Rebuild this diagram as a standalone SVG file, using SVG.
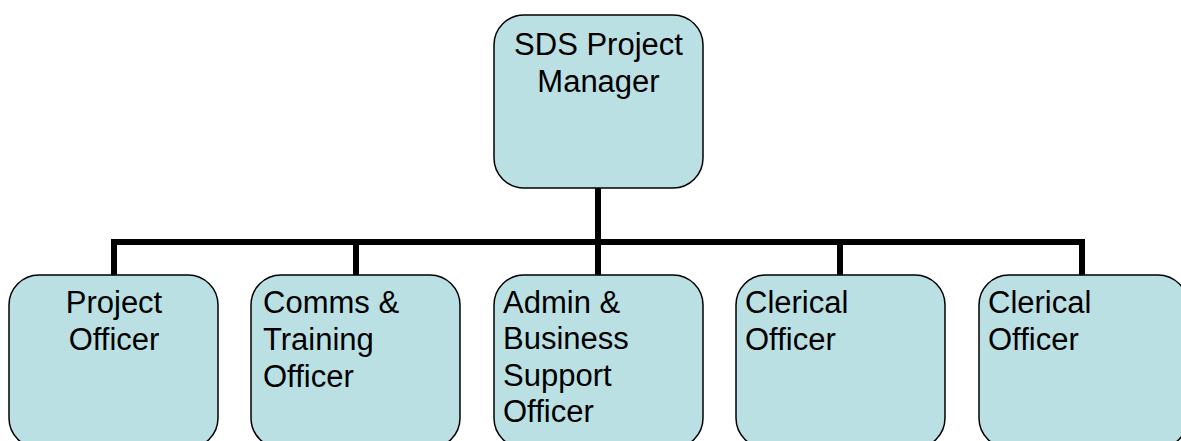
<svg xmlns="http://www.w3.org/2000/svg" width="1181" height="441" viewBox="0 0 1181 441">
<style>
.box{fill:#BBE0E3;stroke:#000;stroke-width:1.5}
.t{font-family:"Liberation Sans",Arial,sans-serif;font-size:31px;fill:#000}
.c{text-anchor:middle}
.conn{stroke:#000;stroke-width:6;fill:none}
</style>
<rect width="1181" height="441" fill="#fff"/>
<g id="connectors">
<path class="conn" d="M598 188V275M114 275V242H1082V275M356 242V275M840 242V275"/>
</g>
<g id="manager">
<rect class="box" x="494" y="15" width="209" height="173" rx="30"/>
<text class="t c" x="598.5" y="55">SDS Project</text>
<text class="t c" x="598.5" y="92">Manager</text>
</g>
<g id="project-officer">
<rect class="box" x="9" y="275" width="209" height="173" rx="30"/>
<text class="t c" x="114" y="313">Project</text>
<text class="t c" x="114" y="350">Officer</text>
</g>
<g id="comms-training-officer">
<rect class="box" x="251" y="275" width="209" height="173" rx="30"/>
<text class="t" x="263" y="313">Comms &amp;</text>
<text class="t" x="263" y="350">Training</text>
<text class="t" x="263" y="387">Officer</text>
</g>
<g id="admin-business-support-officer">
<rect class="box" x="494" y="275" width="209" height="173" rx="30"/>
<text class="t" x="503" y="313">Admin &amp;</text>
<text class="t" x="503" y="349">Business</text>
<text class="t" x="503" y="386">Support</text>
<text class="t" x="503" y="422">Officer</text>
</g>
<g id="clerical-officer-1">
<rect class="box" x="736" y="275" width="209" height="173" rx="30"/>
<text class="t" x="745" y="313">Clerical</text>
<text class="t" x="745" y="350">Officer</text>
</g>
<g id="clerical-officer-2">
<rect class="box" x="979" y="275" width="209" height="173" rx="30"/>
<text class="t" x="988" y="313">Clerical</text>
<text class="t" x="988" y="350">Officer</text>
</g>
</svg>
